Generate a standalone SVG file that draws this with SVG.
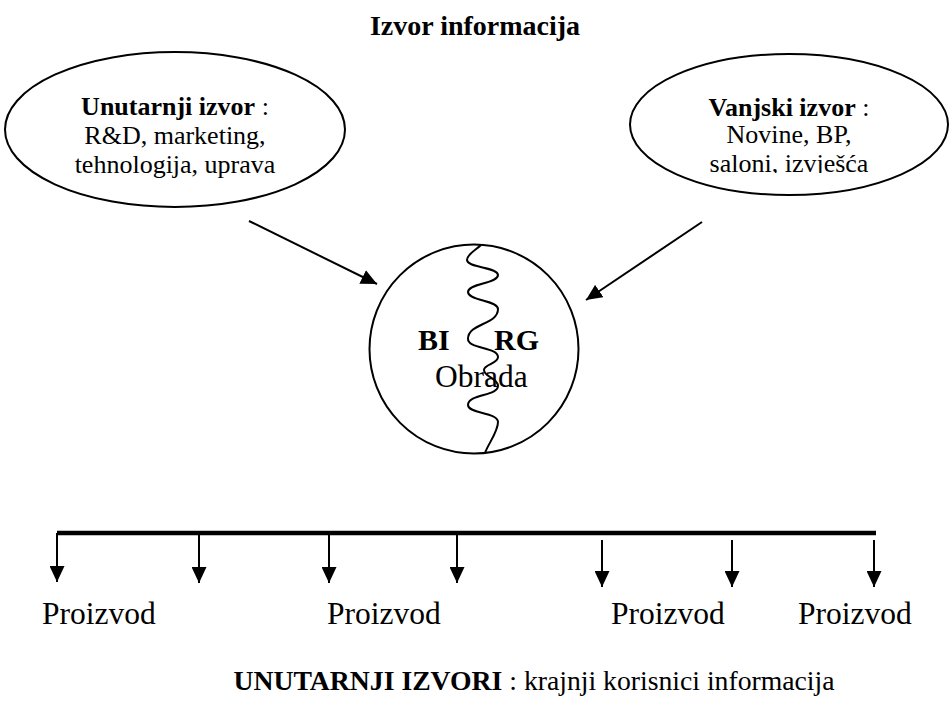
<svg xmlns="http://www.w3.org/2000/svg" width="951" height="702" viewBox="0 0 951 702">
  <style>
    text { font-family: "Liberation Serif", "Times New Roman", serif; fill: #000; }
    .b { font-weight: bold; }
    .shape { fill: none; stroke: #000; stroke-width: 2; }
    .conn { fill: none; stroke: #000; stroke-width: 2; }
    .bar { fill: none; stroke: #000; stroke-width: 4.5; }
  </style>
  <defs>
    <marker id="head" viewBox="0 0 16 15" refX="16" refY="7.5" markerWidth="16" markerHeight="15" markerUnits="userSpaceOnUse" orient="auto">
      <path d="M0,0 L16,7.5 L0,15 Z" fill="#000"/>
    </marker>
    <!-- the last line of the right-hand bubble sits in a cut-off text box -->
    <clipPath id="cutLine">
      <rect x="630" y="146" width="320" height="27"/>
    </clipPath>
  </defs>

  <rect width="951" height="702" fill="#fff"/>

  <text id="title" class="b" x="475" y="35" font-size="28" text-anchor="middle">Izvor informacija</text>

  <g id="unutarnji">
    <ellipse class="shape" cx="175" cy="129.5" rx="170" ry="77.5"/>
    <text x="175" y="115" font-size="26" text-anchor="middle"><tspan class="b">Unutarnji izvor</tspan> :</text>
    <text x="175" y="144" font-size="26" text-anchor="middle">R&amp;D, marketing,</text>
    <text x="175" y="173" font-size="26" text-anchor="middle">tehnologija, uprava</text>
  </g>

  <g id="vanjski">
    <ellipse class="shape" cx="789" cy="124.5" rx="159" ry="70.5"/>
    <text x="789" y="116" font-size="26" text-anchor="middle"><tspan class="b">Vanjski izvor</tspan> :</text>
    <text x="789" y="143" font-size="26" text-anchor="middle">Novine, BP,</text>
    <text x="789" y="172" font-size="26" text-anchor="middle" clip-path="url(#cutLine)">saloni, izvješća</text>
  </g>

  <g id="obrada">
    <circle class="shape" cx="474" cy="349" r="104.5"/>
    <path class="shape" d="M481,245 C476,250 467,254 467,260
      C467,268 498,267 498,275
      C498,284 468,283 468,292
      C468,301 498,300 498,309
      C498,325 468,323 468,339
      C468,349 498,347 498,357
      C498,364 484,364 484,370
      C484,377 498,378 498,386
      C498,396 468,394 468,405
      C468,414 498,412 498,422
      C498,432 488,444 485,453"/>
    <text class="b" x="418" y="350" font-size="30">BI</text>
    <text class="b" x="494" y="350" font-size="30">RG</text>
    <text x="435" y="387" font-size="31.5">Obrada</text>
  </g>

  <g id="connectors">
    <line class="conn" x1="249" y1="221" x2="377" y2="284" marker-end="url(#head)"/>
    <line class="conn" x1="702" y1="222" x2="586" y2="300" marker-end="url(#head)"/>
    <line class="bar" x1="57" y1="533" x2="876" y2="533"/>
    <line class="conn" x1="57" y1="533" x2="57" y2="582" marker-end="url(#head)"/>
    <line class="conn" x1="199" y1="533" x2="199" y2="583" marker-end="url(#head)"/>
    <line class="conn" x1="329" y1="533" x2="329" y2="583" marker-end="url(#head)"/>
    <line class="conn" x1="457" y1="533" x2="457" y2="583" marker-end="url(#head)"/>
    <line class="conn" x1="602" y1="540" x2="602" y2="587" marker-end="url(#head)"/>
    <line class="conn" x1="732" y1="540" x2="732" y2="587" marker-end="url(#head)"/>
    <line class="conn" x1="874" y1="540" x2="874" y2="587" marker-end="url(#head)"/>
  </g>

  <g id="proizvodi">
    <text x="42" y="624" font-size="31.5">Proizvod</text>
    <text x="327" y="624" font-size="31.5">Proizvod</text>
    <text x="611" y="624" font-size="31.5">Proizvod</text>
    <text x="798" y="624" font-size="31.5">Proizvod</text>
  </g>

  <text id="korisnici" x="534" y="690" font-size="27.7" text-anchor="middle"><tspan class="b">UNUTARNJI IZVORI</tspan> : krajnji korisnici informacija</text>
</svg>
